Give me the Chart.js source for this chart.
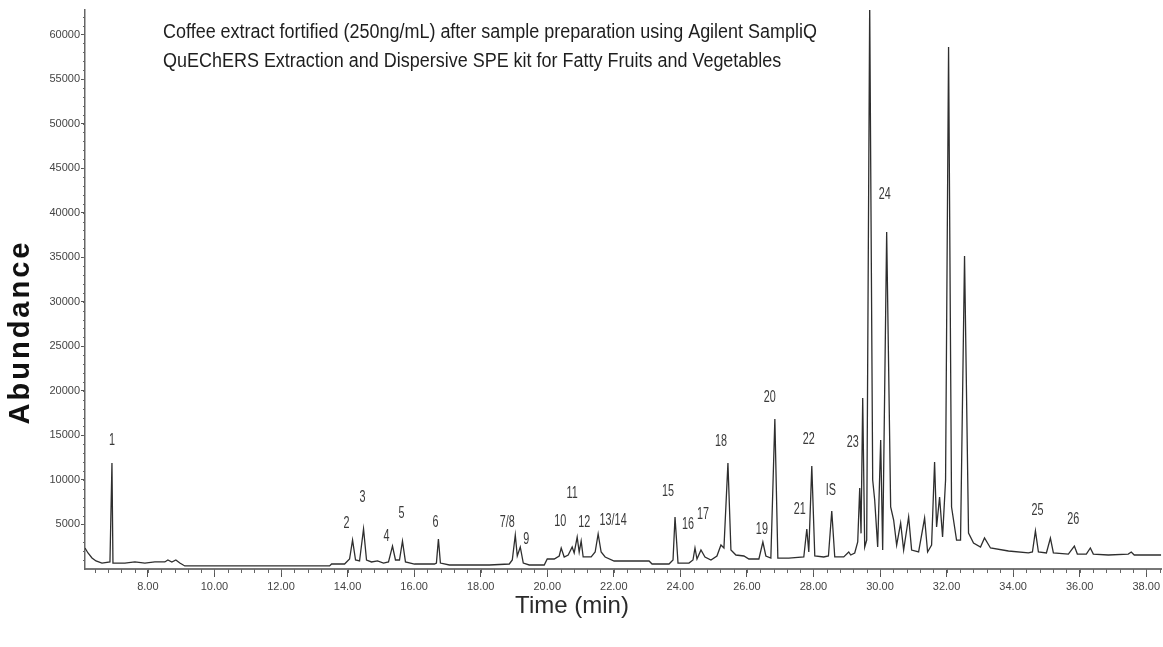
<!DOCTYPE html>
<html>
<head>
<meta charset="utf-8">
<script src="https://cdn.jsdelivr.net/npm/chart.js@4.4.1/dist/chart.umd.min.js"></script>
<style>
html, body { margin: 0; padding: 0; background: #fff; }
#wrap { width: 1163px; height: 647px; position: relative; }
</style>
</head>
<body>
<div id="wrap"><canvas id="chromChart" width="1163" height="647"></canvas></div>
<script>
// retention time (min) and abundance
const timeMin = [
  6.11, 6.20, 6.32, 6.44, 6.62, 6.86, 6.92, 6.95, 7.31, 7.61, 7.91, 8.21, 8.51, 8.60, 8.72, 8.84, 8.96, 9.11,
  13.46, 13.52, 13.91, 14.06, 14.15, 14.24, 14.36, 14.48, 14.57, 14.72, 14.90, 15.08, 15.23, 15.35, 15.44,
  15.56, 15.65, 15.74, 16.01, 16.61, 16.67, 16.73, 16.79, 17.06, 18.26, 18.86, 18.95, 19.04, 19.10, 19.19,
  19.28, 19.46, 19.91, 20.00, 20.21, 20.36, 20.42, 20.51, 20.63, 20.75, 20.81, 20.90, 20.96, 21.02, 21.08,
  21.32, 21.44, 21.53, 21.62, 21.74, 22.01, 23.06, 23.15, 23.66, 23.78, 23.84, 23.93, 24.26, 24.38, 24.44,
  24.50, 24.62, 24.74, 24.92, 25.10, 25.22, 25.31, 25.43, 25.52, 25.67, 25.91, 26.06, 26.36, 26.48, 26.57,
  26.72, 26.84, 26.93, 27.26, 27.71, 27.80, 27.86, 27.95, 28.04, 28.31, 28.45, 28.55, 28.64, 28.91, 29.06,
  29.12, 29.24, 29.33, 29.39, 29.43, 29.48, 29.54, 29.60, 29.69, 29.78, 29.84, 29.93, 30.02, 30.08, 30.20,
  30.32, 30.41, 30.50, 30.62, 30.71, 30.86, 30.95, 31.16, 31.34, 31.43, 31.55, 31.64, 31.70, 31.79, 31.88,
  31.97, 32.06, 32.15, 32.30, 32.42, 32.54, 32.66, 32.81, 33.02, 33.14, 33.32, 33.86, 34.46, 34.58, 34.67,
  34.76, 35.00, 35.12, 35.21, 35.66, 35.84, 35.93, 36.20, 36.32, 36.41, 36.86, 37.46, 37.55, 37.64, 38.45
];
const abundance = [
  2360, 1800, 1240, 900, 670, 790, 11900, 670, 670, 790, 670, 790, 790, 1010, 790, 1010, 670, 340,
  340, 560, 560, 1120, 3250, 1010, 900, 4490, 1010, 790, 900, 670, 790, 2580, 1010,
  1010, 3140, 790, 560, 560, 670, 3370, 670, 450, 450, 560, 1010, 3820, 1460, 2470,
  670, 450, 450, 1120, 1120, 1460, 2360, 1350, 1570, 2470, 1800, 3590, 1910, 3140, 1350,
  1350, 1910, 3930, 1910, 1350, 900, 900, 560, 560, 1010, 5840, 670, 670, 1010, 2360,
  1120, 2130, 1350, 1010, 1460, 2690, 2360, 11900, 2130, 1570, 1460, 1120, 1120, 3030, 1460,
  1230, 16840, 1230, 1230, 1350, 4490, 1910, 11560, 1460, 1350, 1460, 6510, 1350, 1350, 1910,
  1570, 1800, 3030, 9090, 4000, 19190, 2470, 3250, 63500, 9990, 7740, 2470, 14480, 2130, 37820,
  6960, 5500, 2690, 5160, 2130, 5840, 2130, 1910, 5720, 1910, 2690, 12010, 4710, 8080, 3590,
  9990, 58590, 6960, 3250, 3250, 35130, 4040, 2920, 2470, 3480, 2360, 2020, 1800, 1910, 4270,
  1910, 1800, 3480, 1800, 1680, 2580, 1680, 1680, 2360, 1680, 1570, 1680, 1910, 1570, 1570
];

// peak annotations: text, time, abundance of the label centre
const peakLabels    = ['1', '2', '3', '4', '5', '6', '7/8', '9', '10', '11', '12', '13/14', '15', '16', '17', '18', '19', '20', '21', '22', 'IS', '23', '24', '25', '26'];
const peakLabelTime = [6.92, 13.97, 14.45, 15.17, 15.62, 16.64, 18.80, 19.37, 20.39, 20.75, 21.11, 21.98, 23.63, 24.23, 24.68, 25.22, 26.45, 26.69, 27.59, 27.86, 28.52, 29.18, 30.14, 34.73, 35.81];
const peakLabelAbund = [14420, 5110, 8030, 3650, 6230, 5220, 5220, 3310, 5330, 8470, 5220, 5440, 8700, 4990, 6120, 14310, 4430, 19250, 6680, 14540, 8810, 14200, 42030, 6570, 5560];

const xTickValues = [8, 10, 12, 14, 16, 18, 20, 22, 24, 26, 28, 30, 32, 34, 36, 38];
const yTickValues = [5000, 10000, 15000, 20000, 25000, 30000, 35000, 40000, 45000, 50000, 55000, 60000];

const titleLines = [
  'Coffee extract fortified (250ng/mL) after sample preparation using Agilent SampliQ',
  'QuEChERS Extraction and Dispersive SPE kit for Fatty Fruits and Vegetables'
];
const xTitle = 'Time (min)';
const yTitle = 'Abundance';

const TICK_FONT = '"Liberation Sans Narrow", "Liberation Sans", Arial, sans-serif';

// minor ticks, peak labels, titles
const decorPlugin = {
  id: 'decor',
  afterDraw(chart) {
    const { ctx, chartArea } = chart;
    const x = chart.scales.x, y = chart.scales.y;
    ctx.save();

    // minor ticks on time axis every 0.4 min
    ctx.strokeStyle = '#666';
    ctx.lineWidth = 1;
    for (let i = Math.ceil(x.min / 0.4); i * 0.4 <= x.max; i++) {
      const px = Math.round(x.getPixelForValue(i * 0.4)) + 0.5;
      ctx.beginPath();
      ctx.moveTo(px, chartArea.bottom);
      ctx.lineTo(px, chartArea.bottom + 4);
      ctx.stroke();
    }
    // small ticks on abundance axis
    for (let v = 1000; v < y.max; v += 1000) {
      const py = Math.round(y.getPixelForValue(v)) + 0.5;
      ctx.beginPath();
      ctx.moveTo(chartArea.left - 2, py);
      ctx.lineTo(chartArea.left, py);
      ctx.stroke();
    }

    // peak labels
    ctx.fillStyle = '#3a3a3a';
    ctx.font = '12px "Liberation Sans", Arial, sans-serif';
    ctx.textAlign = 'center';
    ctx.textBaseline = 'middle';
    peakLabels.forEach((lab, i) => {
      const px = x.getPixelForValue(peakLabelTime[i]);
      const py = y.getPixelForValue(peakLabelAbund[i]);
      ctx.save();
      ctx.translate(px, py);
      ctx.scale(0.9, 1.3);
      ctx.fillText(lab, 0, 0);
      ctx.restore();
    });

    // title inside plot (condensed, like the original)
    ctx.fillStyle = '#1e1e1e';
    ctx.font = '19px "Liberation Sans", Arial, sans-serif';
    ctx.textAlign = 'left';
    const w1 = ctx.measureText(titleLines[0]).width;
    const sx = 654 / w1;
    titleLines.forEach((line, i) => {
      ctx.save();
      ctx.translate(163, 33 + i * 29);
      ctx.scale(sx, 1.05);
      ctx.fillText(line, 0, 0);
      ctx.restore();
    });

    // x axis title
    ctx.fillStyle = '#2a2a2a';
    ctx.font = '24px "Liberation Sans", Arial, sans-serif';
    ctx.textAlign = 'center';
    ctx.fillText(xTitle, 572, 606);

    // y axis title
    ctx.save();
    ctx.translate(21, 332);
    ctx.rotate(-Math.PI / 2);
    ctx.fillStyle = '#111';
    ctx.font = 'bold 29px "Liberation Sans", Arial, sans-serif';
    ctx.letterSpacing = '3px';
    ctx.fillText(yTitle, 0, 0);
    ctx.restore();

    ctx.restore();
  }
};

const ctx = document.getElementById('chromChart').getContext('2d');
const chromChart = new Chart(ctx, {
  type: 'line',
  data: {
    datasets: [{
      data: timeMin.map((t, i) => ({ x: t, y: abundance[i] })),
      borderColor: '#2e2e2e',
      borderWidth: 1.3,
      pointRadius: 0,
      tension: 0,
      fill: false
    }]
  },
  options: {
    responsive: false,
    animation: false,
    devicePixelRatio: 1,
    layout: { padding: { left: 0, top: 10, right: 0, bottom: 0 } },
    plugins: { legend: { display: false }, tooltip: { enabled: false }, title: { display: false } },
    scales: {
      x: {
        type: 'linear',
        min: 6.11,
        max: 38.45,
        afterBuildTicks: s => { s.ticks = xTickValues.map(v => ({ value: v })); },
        afterFit: s => { s.height = 78; },
        grid: { display: true, drawOnChartArea: false, drawTicks: true, tickLength: 8, color: '#555' },
        border: { display: true, color: '#777', width: 2 },
        ticks: {
          padding: 3,
          maxRotation: 0,
          autoSkip: false,
          color: '#444',
          font: { family: TICK_FONT, size: 11 },
          callback: v => Number(v).toFixed(2)
        }
      },
      y: {
        min: 0,
        max: 62750,
        afterBuildTicks: s => { s.ticks = yTickValues.map(v => ({ value: v })); },
        afterFit: s => { s.width = 85; },
        grid: { display: true, drawOnChartArea: false, drawTicks: true, tickLength: 4, color: '#555' },
        border: { display: true, color: '#666', width: 1.5 },
        ticks: {
          padding: 1,
          autoSkip: false,
          color: '#444',
          font: { family: TICK_FONT, size: 11 },
          callback: v => String(v)
        }
      }
    }
  },
  plugins: [decorPlugin]
});
</script>
</body>
</html>
